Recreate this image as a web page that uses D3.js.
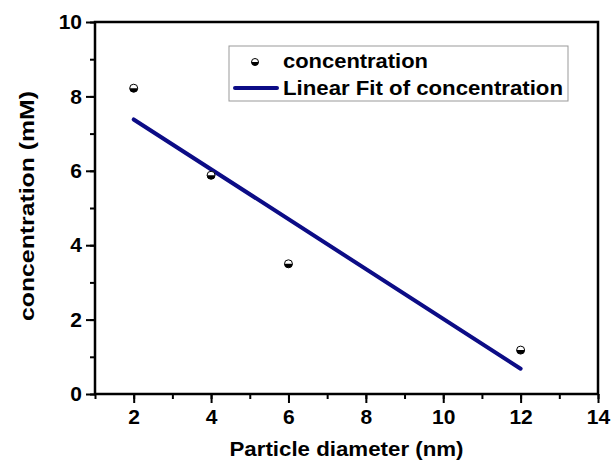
<!DOCTYPE html>
<html>
<head>
<meta charset="utf-8">
<script src="https://cdn.jsdelivr.net/npm/d3@7"></script>
<style>
  body { margin: 0; background: #fff; }
  svg { display: block; }
</style>
</head>
<body>
<div id="chart"></div>
<script>
// measured points
const diameters = [2, 4, 6, 12];
const concentrations = [8.22, 5.88, 3.5, 1.18];
// fit line endpoints
const fitX = [2, 12];
const fitY = [7.38, 0.68];
const xTicks = [2, 4, 6, 8, 10, 12, 14];
const yTicks = [0, 2, 4, 6, 8, 10];
const legendLabels = ["concentration", "Linear Fit of concentration"];

const width = 612, height = 465;
const margin = { top: 22, right: 14, bottom: 71, left: 95 };
const innerWidth = width - margin.left - margin.right;
const innerHeight = height - margin.top - margin.bottom;
const font = "'Liberation Sans', Arial, sans-serif";
const lineColor = "#0c0c86";

const x = d3.scaleLinear().domain([1, 14]).range([0, innerWidth]);
const y = d3.scaleLinear().domain([0, 10]).range([innerHeight, 0]);

const svg = d3.select("#chart").append("svg")
    .attr("width", width)
    .attr("height", height);

const g = svg.append("g")
    .attr("transform", `translate(${margin.left}, ${margin.top})`);

const styleTicks = a => a.selectAll(".tick line").attr("stroke", "#000").attr("stroke-width", 2);
const styleLabels = a => a.selectAll(".tick text")
    .attr("fill", "#000")
    .style("font-family", font)
    .style("font-size", "21px")
    .style("font-weight", "bold");

// minor ticks
g.append("g")
    .attr("transform", `translate(0, ${innerHeight})`)
    .call(d3.axisBottom(x).tickValues(d3.range(1, 15)).tickSize(5))
    .call(a => a.select(".domain").remove())
    .call(a => a.selectAll(".tick text").remove())
    .call(styleTicks);
g.append("g")
    .call(d3.axisLeft(y).tickValues(d3.range(0, 11)).tickSize(5))
    .call(a => a.select(".domain").remove())
    .call(a => a.selectAll(".tick text").remove())
    .call(styleTicks);

// major ticks + labels
g.append("g")
    .attr("transform", `translate(0, ${innerHeight})`)
    .call(d3.axisBottom(x).tickValues(xTicks).tickSize(9).tickPadding(6))
    .call(a => a.select(".domain").remove())
    .call(styleTicks)
    .call(styleLabels);
g.append("g")
    .call(d3.axisLeft(y).tickValues(yTicks).tickSize(9).tickPadding(4))
    .call(a => a.select(".domain").remove())
    .call(styleTicks)
    .call(styleLabels);

// frame
g.append("rect")
    .attr("width", innerWidth)
    .attr("height", innerHeight)
    .attr("fill", "none")
    .attr("stroke", "#000")
    .attr("stroke-width", 2.5);

// fit line
const line = d3.line().x(d => x(d[0])).y(d => y(d[1]));
g.append("path")
    .datum(fitX.map((v, i) => [v, fitY[i]]))
    .attr("fill", "none")
    .attr("stroke", lineColor)
    .attr("stroke-width", 4)
    .attr("stroke-linecap", "round")
    .attr("d", line);

// half-filled markers
function marker(sel, r) {
    sel.append("circle").attr("r", r).attr("fill", "#fff").attr("stroke", "#000").attr("stroke-width", 1);
    sel.append("path")
        .attr("d", `M${-r},0 A${r},${r} 0 0 0 ${r},0 Z`)
        .attr("fill", "#000");
}
g.append("g").selectAll("g")
    .data(diameters.map((d, i) => [d, concentrations[i]]))
    .join("g")
    .attr("transform", d => `translate(${x(d[0])}, ${y(d[1])})`)
    .each(function () { marker(d3.select(this), 4); });

// legend
const legend = svg.append("g").attr("transform", "translate(229, 46)");
legend.append("rect")
    .attr("width", 339)
    .attr("height", 55)
    .attr("fill", "#fff")
    .attr("stroke", "#999")
    .attr("stroke-width", 1);
marker(legend.append("g").attr("transform", "translate(26, 16)"), 3.5);
legend.append("line")
    .attr("x1", 6).attr("x2", 48)
    .attr("y1", 42).attr("y2", 42)
    .attr("stroke", lineColor)
    .attr("stroke-width", 4)
    .attr("stroke-linecap", "round");
legend.selectAll("text.lbl")
    .data(legendLabels)
    .join("text")
    .attr("class", "lbl")
    .attr("x", 54)
    .attr("y", (d, i) => i === 0 ? 22 : 49)
    .attr("textLength", (d, i) => i === 0 ? 145 : 280)
    .attr("lengthAdjust", "spacingAndGlyphs")
    .attr("fill", "#000")
    .style("font-family", font)
    .style("font-size", "20px")
    .style("font-weight", "bold")
    .text(d => d);

// axis titles
svg.append("text")
    .attr("x", margin.left + innerWidth / 2)
    .attr("y", 456)
    .attr("text-anchor", "middle")
    .attr("textLength", 234)
    .attr("lengthAdjust", "spacingAndGlyphs")
    .style("font-family", font)
    .style("font-size", "20px")
    .style("font-weight", "bold")
    .text("Particle diameter (nm)");
svg.append("text")
    .attr("transform", `translate(34, ${margin.top + innerHeight / 2 - 2}) rotate(-90)`)
    .attr("text-anchor", "middle")
    .attr("textLength", 230)
    .attr("lengthAdjust", "spacingAndGlyphs")
    .style("font-family", font)
    .style("font-size", "20px")
    .style("font-weight", "bold")
    .text("concentration (mM)");
</script>
</body>
</html>
